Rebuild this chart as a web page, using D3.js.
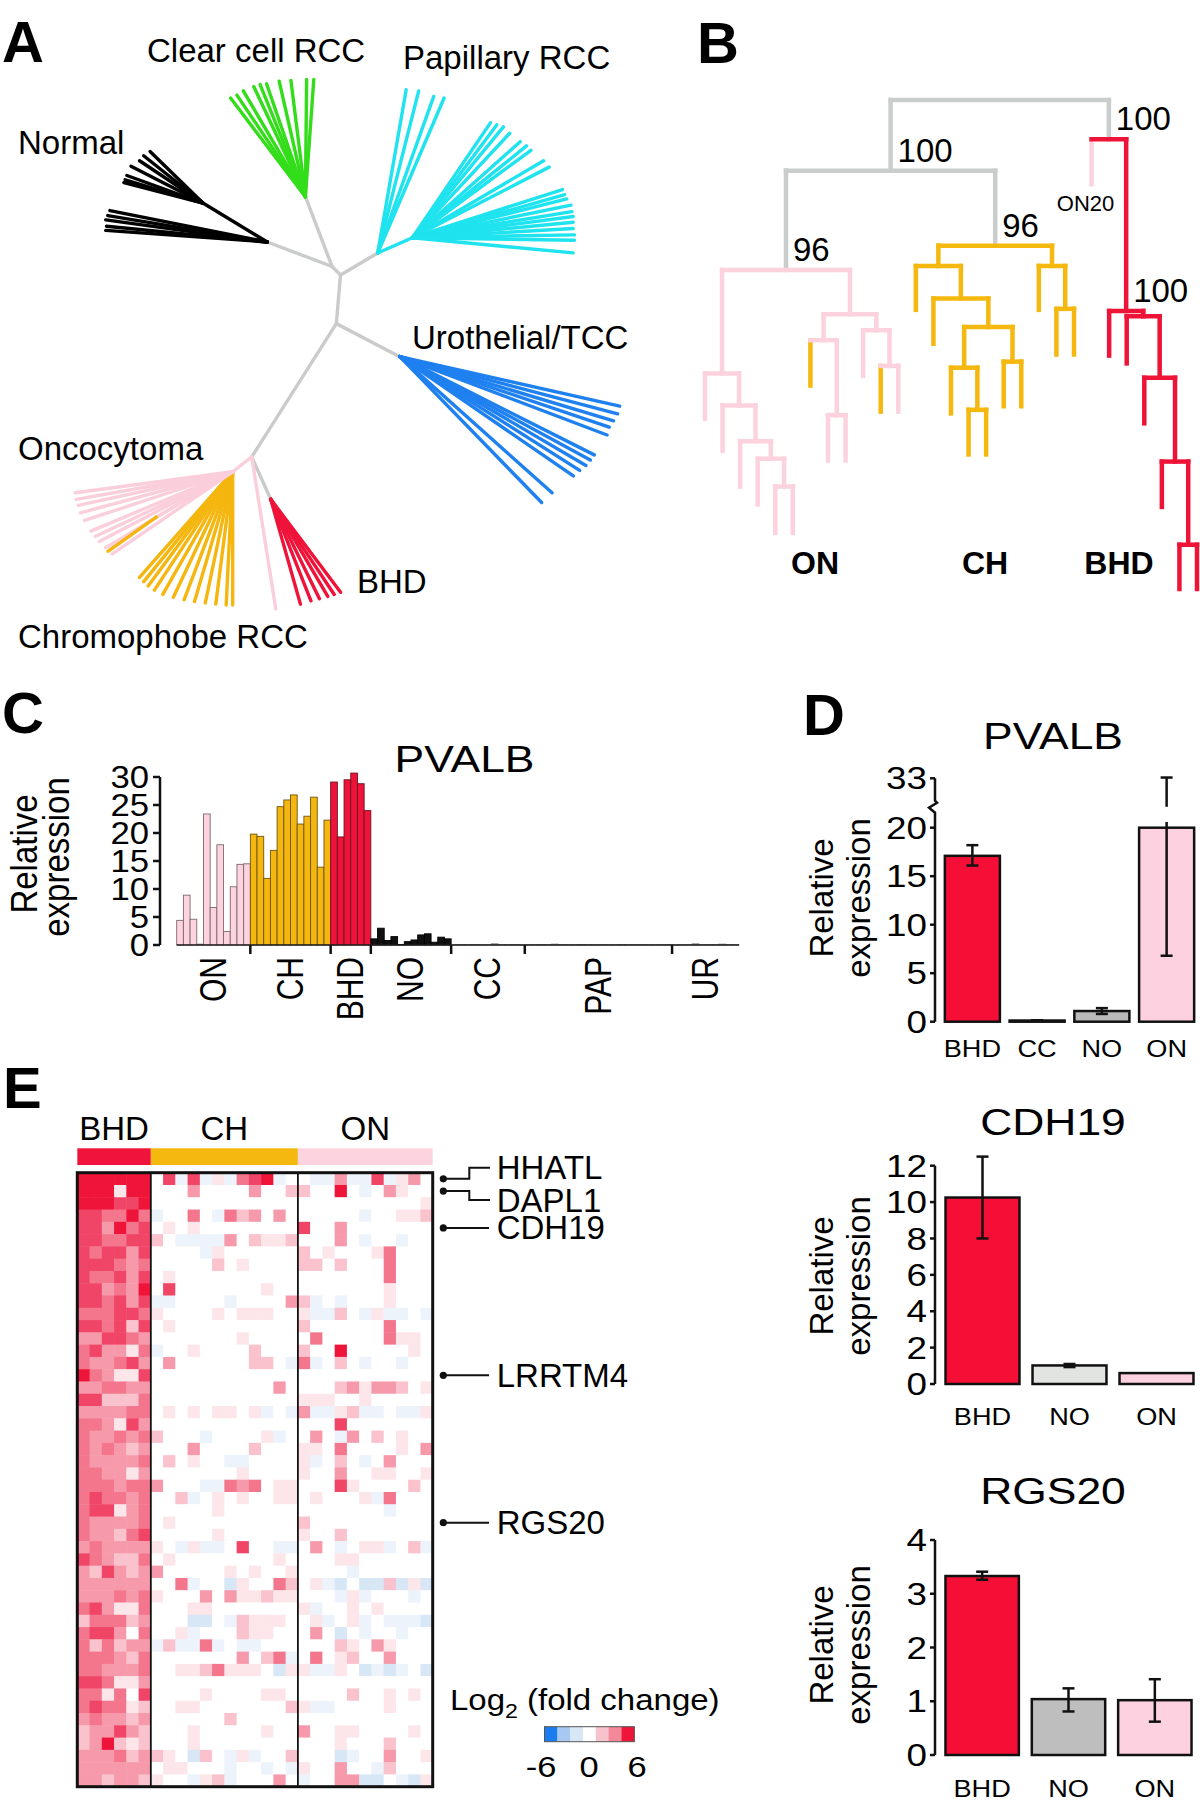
<!DOCTYPE html>
<html><head><meta charset="utf-8">
<script src="https://cdn.jsdelivr.net/npm/d3@7"></script>
<style>body{margin:0;background:#fff} svg{display:block} text{font-family:"Liberation Sans",Arial,Helvetica,sans-serif}</style>
</head><body><svg id="fig" width="1200" height="1806"></svg>
<script>
// ================= DATA =================
// Panel A: unrooted tree. Backbone branches: [node, parent, angle(deg), length, group]
const aBranches = [
  ["n1","n0",-134.7,12,"gray"], ["cc","n1",-110.9,74.7,"gray"], ["no","n1",-159.3,69.3,"gray"],
  ["pap","n0",-30.6,43.2,"gray"], ["n2","n0",94.9,48.8,"gray"], ["ur","n2",27.5,71.5,"gray"],
  ["n3","n2",122.4,157.9,"gray"], ["bhd","n3",65.8,46.4,"gray"], ["onch","n3",142.1,24.1,"on"],
  ["no2","no",-148.8,75.2,"normal"], ["pap2","pap",-23.8,37.9,"pap"], ["onmid","onch",149.3,88.6,"on"]
];
// leaves: [angle, length] from their hub
const aClearTips = [[-127.2,123.8],[-124,122.5],[-120.4,122.7],[-115.1,121.5],[-112,120.9],[-109,119.4],[-102.8,118.4],[-97.1,117.2],[-89.4,117.2],[-85.9,117.5]];
const aNormalTipsA = [[-135.7,73.8],[-141.4,75.8],[-146.3,76.2],[-152.9,80.8],[-160.1,80.9],[-163.4,81.2],[-165.6,81.6]];
const aNormalTipsB = [[-168.7,160.4],[-170.6,161.6],[-172.2,163],[-174.4,161.5],[-175.9,161.9]];
const aPapTipsA = [[-80.1,165.8],[-75.8,167.2],[-70.3,166.3],[-66.8,168.6]];
const aPapTipsB = [[-55.8,139.1],[-53.2,141.1],[-50.6,143.4],[-47,142.8],[-41.7,144.4],[-38.8,146.5],[-36.4,147.3],[-30.4,152.1],[-27.3,153.9],[-17.8,157.7],[-15.8,158.3],[-14.1,159.2],[-11.6,162],[-9.3,161.6],[-7.5,162.2],[-5.5,161.6],[-3.3,161.1],[-1,162.1],[0.9,162.1],[5.4,161.5]];
const aUroTips = [[12.7,225.5],[14.7,225.3],[16.7,223.2],[18.6,221],[20.7,221.6],[26.8,217.9],[28.5,216.8],[30.3,215.6],[32.3,212.8],[34.5,210.6],[41.8,204.3],[45.8,203.5]];
const aOncoTips = [[172.4,158.8],[170,159],[167.7,158.1],[164.9,157.7],[161.8,155.9],[157.3,153.7],[154.8,152],[152.4,150.5],[149.1,148],[145.7,146.1]];
const aOncoLongTip = [[81,154]];
const aChromoTips = [[131.4,140.9],[129,141.4],[126.5,142.1],[123.5,141.9],[119.7,141.1],[115.3,138.9],[110.8,137],[106.4,135.3],[101.8,134],[97.3,133.5],[92.8,133.4],[90,133.2]];
const aChromoInOnTip = [[144.8,59.5]];
const aBhdTips = [[74.2,109],[68.4,109.2],[63.9,110.7],[59.6,112.7],[56.3,114.4],[53.1,116.3]];
const aLabels = ["Clear cell RCC","Papillary RCC","Normal","Urothelial/TCC","Oncocytoma","BHD","Chromophobe RCC"];

// Panel B: dendrogram (Newick; internal names = stemColor barColor | bootstrap)
const bNewick = "(((" +
  "(ON:1.27,(ON:1.27,(ON:1.27,(ON:1.28,(ON:1.30,ON:1.30)PP:0.78)PP:0.49)PP:1.00)PP:0.90)PP:2.90," +
  "((CH:1.27,(ON:1.27,ON:1.27)PP:2.10)PP:0.73,(ON:1.28,(CH:1.28,ON:1.28)PP:1.00)PP:0.45)PP:1.24" +
  ")GP|96:2.78,(" +
  "(CH:1.23,(CH:1.27,((CH:1.28,(CH:1.25,CH:1.25)OO:1.18)OO:1.14,(CH:1.25,CH:1.25)OO:0.97)OO:0.80)OO:0.91)OO:0.57," +
  "(CH:1.23,(CH:1.28,CH:1.28)OO:1.20)OO:0.57" +
  ")GO|96:2.10)GG|100:1.98," +
  "(ON20:1.26,(BHD:1.25,(BHD:1.32,(BHD:1.28,(BHD:1.27,(BHD:1.24,BHD:1.24)RR:2.33)RR:2.35)RR:1.72)RR:0.15)RR|100:4.81)GR|100:1.10)GG;";
const bGroupLabels = ["ON","CH","BHD"];

// Panel C: PVALB relative expression per sample
const cGroups = ["ON","CH","BHD","NO","CC","PAP","UR"];
const cON  = [4.4, 8.9, 4.6, 0.15, 23.4, 6.7, 17.9, 2.4, 10.4, 14.4, 14.5];
const cCH  = [19.8, 19.4, 11.9, 16.9, 24.7, 25.9, 26.8, 21.6, 23.0, 26.4, 13.9, 22.3];
const cBHD = [29.1, 19.3, 29.5, 30.7, 28.8, 24.0];
const cNO  = [1.1, 3.0, 0.8, 1.5, 0.1, 0.6, 0.9, 1.8, 2.0, 0.5, 1.4, 1.1];
const cCC  = [0.05, 0.08, 0.05, 0.1, 0.05, 0.05, 0.2, 0.05, 0.05, 0.1, 0.05];
const cPAP = [0.05, 0.05, 0.1, 0.05, 0.15, 0.05, 0.05, 0.05, 0.1, 0.05, 0.05, 0.05, 0.05, 0.05, 0.1, 0.05, 0.05, 0.05, 0.05, 0.05, 0.05, 0.1];
const cUR  = [0.05, 0.05, 0.05, 0.2, 0.05, 0.05, 0.05, 0.15, 0.05, 0.05];
const cTicks = [0, 5, 10, 15, 20, 25, 30];

// Panel D: qPCR
const pvalbCats = ["BHD","CC","NO","ON"];
const pvalbMean = [17.1, 0.12, 1.1, 20.0];
const pvalbLo   = [16.1, 0.10, 0.8, 6.8];
const pvalbHi   = [18.2, 0.14, 1.4, 33.2];
const pvalbTicks = [0, 5, 10, 15, 20, 33];
const cdh19Cats = ["BHD","NO","ON"];
const cdh19Mean = [10.25, 1.02, 0.6];
const cdh19Lo   = [8.0, 0.93, 0.6];
const cdh19Hi   = [12.5, 1.1, 0.6];
const cdh19Ticks = [0, 2, 4, 6, 8, 10, 12];
const rgs20Cats = ["BHD","NO","ON"];
const rgs20Mean = [3.33, 1.04, 1.02];
const rgs20Lo   = [3.26, 0.81, 0.62];
const rgs20Hi   = [3.41, 1.24, 1.41];
const rgs20Ticks = [0, 1, 2, 3, 4];

// Panel E: heatmap, log2 fold change per gene (rows) x sample (cols)
// digits = +value, a/b/c = -1/-2/-3
const hmGroups = ["BHD","CH","ON"];
const hmBHD = ["666666","666166","666556","554464","553645","554455","545535","555434","544535","553436",
  "554535","444554","554525","335543","453314","433453","643115","334433","552224","333344",
  "443153","433434","434323","433334","443313","444344","454434","455134","433334","433245",
  "343333","543224","325323","333333","333434","453114","244423","455304","424233","444324",
  "443334","554113","441405","454412","343323","233532","236212","333423","333333","332332"];
const hmCH = ["05a5a1a456a0","000300003002","000000000000","a0040a423030","010100000000","20aaaa302112","0000a1000000","000002010000","010000000000","050000000100",
  "aa0000a00003","100001011100","010000000000","000000010000","a00100002000","03000000220a","000000000000","000000000030","000000000000","010101101a0a",
  "000000000000","2000a00001a0","000300002000","020100aa0000","000000010000","3000aa434011","002a01010011","000001000000","010000000000","000001000000",
  "10a1aa0500aa","010000000010","300000101001","004a00b10042","100030311211","000110000000","000bb0a21110","001a00021100","a2aa4a0aa000","00000003024a",
  "0011241110b1","000000000000","000010000110","001100000002","000000200000","000100000100","000100000000","210b20a1a002","011000a00a0a","100a12a00030"];
const hmON = ["0aa3aa5a130","20060a03100","00000000001","00000a00112","50030000000","00030a00a00","20100014000","22020004000","00000004000","00000001000",
  "2a0a0001000","1aa20a1aa0a","20000004000","04000004110","20060000010","4a020a00a00","00000000000","00023133201","11100100000","3aa12aa0aa1",
  "00050000000","030a3020100","11040000103","1a020a03000","10030011001","00051000020","010001a4000","0000000a000","20000000000","10020000000",
  "030a011a02a","00011000000","0000a000000","01ab0bb2b1b","000a1a000a0","1a001010000","01a01a0aaab","030b0a00a00","00021031000","04012003000",
  "1aa10baba0b","00000000000","00002001010","1aa00001000","00000000000","30011000010","00010002000","000ba003001","100300a2000","a0033bb0ab1"];
const hmGenes = ["HHATL","DAPL1","CDH19","LRRTM4","RGS20"];
const hmGeneRows = [0, 1, 4, 16, 28];
const hmLegendValues = [-6, -4, -2, 0, 2, 4, 6];
const hmLegendLabels = [-6, 0, 6];

// ================= STYLE =================
const svg = d3.select("#fig");
const COL = {gray:"#cacccb", normal:"#000000", cc:"#33dd1a", pap:"#1fe3ee", ur:"#1f80ef",
  on:"#fbcedc", ch:"#f4b60f", bhd:"#ef1339"};
const heatStops = [-6, -4, -2, -1, 0, 1, 2, 3, 4, 5, 6];
const heatColors = ["#1b7cf0","#a6c8f1","#d8e7f6","#ecf3fb","#ffffff","#fde6ea","#f9c2cc","#f69aab","#f3768d","#f04566","#ef1439"];

function addText(g, s, x, y, o = {}) {
  const t = g.append("text")
    .attr("transform", `translate(${x},${y}) scale(${o.sx || 1},1) rotate(${o.rot || 0})`)
    .attr("font-size", o.size || 33)
    .attr("font-weight", o.bold ? "bold" : "normal")
    .attr("text-anchor", o.anchor || "start")
    .attr("fill", o.fill || "#000");
  if (o.baseline) t.attr("dominant-baseline", o.baseline);
  t.text(s);
  return t;
}

// Panel letters
[["A",2,62],["B",697,63],["C",2,733],["D",803,735],["E",3,1108]].forEach(([s,x,y]) =>
  addText(svg, s, x, y, {size: 58, bold: true}));

// ================= PANEL A =================
(function () {
  const g = svg.append("g");
  const xA = d3.scaleLinear().domain([0, 1]).range([340.5, 341.5]);
  const yA = d3.scaleLinear().domain([0, 1]).range([275, 276]);
  const pos = {n0: [0, 0]};
  const rad = d => d * Math.PI / 180;
  aBranches.forEach(([n, p, a, l]) => {
    pos[n] = [pos[p][0] + l * Math.cos(rad(a)), pos[p][1] + l * Math.sin(rad(a))];
  });
  const seg = (p0, p1, col) => g.append("line")
    .attr("x1", xA(p0[0])).attr("y1", yA(p0[1])).attr("x2", xA(p1[0])).attr("y2", yA(p1[1]))
    .attr("stroke", col).attr("stroke-width", 3.4).attr("stroke-linecap", "round");
  aBranches.filter(b => b[4] === "gray").forEach(([n, p]) => seg(pos[p], pos[n], COL.gray));
  const tips = (hub, list, col) => list.forEach(([a, l]) => {
    const h = pos[hub];
    seg(h, [h[0] + l * Math.cos(rad(a)), h[1] + l * Math.sin(rad(a))], col);
  });
  aBranches.filter(b => b[4] === "normal").forEach(([n, p]) => seg(pos[p], pos[n], COL.normal));
  tips("no2", aNormalTipsA, COL.normal);
  tips("no", aNormalTipsB, COL.normal);
  tips("cc", aClearTips, COL.cc);
  aBranches.filter(b => b[4] === "pap").forEach(([n, p]) => seg(pos[p], pos[n], COL.pap));
  tips("pap", aPapTipsA, COL.pap);
  tips("pap2", aPapTipsB, COL.pap);
  tips("ur", aUroTips, COL.ur);
  tips("bhd", aBhdTips, COL.bhd);
  tips("onch", aChromoTips, COL.ch);
  aBranches.filter(b => b[4] === "on").forEach(([n, p]) => seg(pos[p], pos[n], COL.on));
  tips("onch", aOncoTips, COL.on);
  tips("n3", aOncoLongTip, COL.on);
  tips("onmid", aChromoInOnTip, COL.ch);

  const lp = [[147,62],[403,69],[18,154],[412,349],[18,460],[357,593],[18,648]];
  aLabels.forEach((s, i) => addText(g, s, lp[i][0], lp[i][1], {size: 33}));
})();

// ================= PANEL B =================
(function () {
  const g = svg.append("g");
  function parseNewick(s) {
    let i = 0;
    function node() {
      const n = {children: []};
      if (s[i] === "(") {
        i++; n.children.push(node());
        while (s[i] === ",") { i++; n.children.push(node()); }
        i++;
      }
      let name = "";
      while (i < s.length && !",:);".includes(s[i])) name += s[i++];
      n.name = name;
      n.length = 0;
      if (s[i] === ":") {
        i++; let num = "";
        while (i < s.length && !",);".includes(s[i])) num += s[i++];
        n.length = +num;
      }
      if (!n.children.length) delete n.children;
      return n;
    }
    return node();
  }
  const root = d3.hierarchy(parseNewick(bNewick));
  root.eachBefore(d => { d.dist = d.parent ? d.parent.dist + d.data.length : 0; });
  const leaves = root.leaves();
  const maxDist = d3.max(leaves, d => d.dist);
  const xB = d3.scalePoint().domain(d3.range(leaves.length)).range([705, 1197]);
  const yB = d3.scaleLinear().domain([0, maxDist]).range([100, 589]);
  leaves.forEach((d, i) => { d.x = xB(i); });
  root.eachAfter(d => { if (d.children) d.x = d3.mean(d.children, c => c.x); d.y = yB(d.dist); });
  const code = {G: "#c9cdcb", P: "#fcd2de", O: "#f5b80f", R: "#ee1438"};
  const leafCode = {ON: "P", CH: "O", BHD: "R", ON20: "P"};
  const line = (x1, y1, x2, y2, c) => g.append("line").attr("x1", x1).attr("y1", y1).attr("x2", x2).attr("y2", y2)
    .attr("stroke", c).attr("stroke-width", 4.5).attr("stroke-linecap", "square");
  root.descendants().filter(d => d.parent).forEach(d => {
    const c = d.children ? d.data.name[0] : leafCode[d.data.name];
    line(d.x, d.parent.y, d.x, d.y, code[c]);
  });
  root.descendants().filter(d => d.children).forEach(d => {
    const c = d.data.name[1];
    line(d.children[0].x, d.y, d.children[d.children.length - 1].x, d.y, code[c]);
  });
  root.descendants().filter(d => d.data.name.includes("|")).forEach(d => {
    addText(g, d.data.name.split("|")[1], d.x + 7, d.y - 9, {size: 33});
  });
  const on20 = leaves.find(d => d.data.name === "ON20");
  addText(g, "ON20", on20.x - 6, on20.y + 27, {size: 22, anchor: "middle"});
  const gx = [815, 985, 1119];
  bGroupLabels.forEach((s, i) => addText(g, s, gx[i], 574, {size: 32, bold: true, anchor: "middle"}));
})();

// ================= PANEL C =================
(function () {
  const g = svg.append("g");
  const series = {ON: cON, CH: cCH, BHD: cBHD, NO: cNO, CC: cCC, PAP: cPAP, UR: cUR};
  const samples = [];
  cGroups.forEach(gr => series[gr].forEach(v => samples.push({g: gr, v})));
  const x = d3.scaleBand().domain(d3.range(samples.length)).range([176.7, 739]).padding(0);
  const y = d3.scaleLinear().domain([0, 30]).range([945, 777]);
  const fill = {ON: "#fcd3de", CH: "#f4b70f", BHD: "#ee1439", NO: "#111111", CC: "#999", PAP: "#999", UR: "#999"};
  const stroke = {ON: "#7d6a6d", CH: "#6e5414", BHD: "#6e1020", NO: "#000", CC: "#777", PAP: "#777", UR: "#777"};
  g.selectAll("rect.bar").data(samples).join("rect")
    .attr("x", (d, i) => x(i)).attr("width", x.bandwidth())
    .attr("y", d => y(d.v)).attr("height", d => y(0) - y(d.v))
    .attr("fill", d => fill[d.g]).attr("stroke", d => stroke[d.g]).attr("stroke-width", 0.9);
  g.append("line").attr("x1", 176.7).attr("x2", 739).attr("y1", y(0)).attr("y2", y(0)).attr("stroke", "#222").attr("stroke-width", 1.5);
  let idx = 0; const bounds = [];
  cGroups.forEach(gr => { const s = idx; idx += series[gr].length; bounds.push([s, idx]); });
  bounds.slice(0, -1).forEach(([s, e]) => g.append("line").attr("x1", x(e)).attr("x2", x(e))
    .attr("y1", y(0)).attr("y2", y(0) + 9).attr("stroke", "#111").attr("stroke-width", 2.5));
  cGroups.forEach((gr, i) => {
    const cx = (x(bounds[i][0]) + x(bounds[i][1] - 1) + x.bandwidth()) / 2;
    addText(g, gr, cx, 957, {size: 30, sx: 1.2, rot: -90, anchor: "end", baseline: "central"});
  });
  g.append("line").attr("x1", 160).attr("x2", 160).attr("y1", y(0)).attr("y2", y(30)).attr("stroke", "#111").attr("stroke-width", 2.5);
  cTicks.forEach(t => {
    g.append("line").attr("x1", 153).attr("x2", 160).attr("y1", y(t)).attr("y2", y(t)).attr("stroke", "#111").attr("stroke-width", 2.5);
    addText(g, t, 149, y(t), {size: 31, sx: 1.12, anchor: "end", baseline: "central"});
  });
  addText(g, "Relative", 36.5, 854, {size: 33, sx: 1.1, rot: -90, anchor: "middle"});
  addText(g, "expression", 68.5, 857, {size: 33, sx: 1.1, rot: -90, anchor: "middle"});
  addText(g, "PVALB", 464.5, 771.5, {size: 37, sx: 1.2, anchor: "middle"});
})();

// ================= PANEL D =================
function drawD(cfg) {
  const g = svg.append("g");
  const x = d3.scaleBand().domain(cfg.cats).range(cfg.xr).paddingInner(0.15).paddingOuter(0.075);
  const y = d3.scaleLinear().domain(cfg.yd).range(cfg.yr);
  const ax = 935;
  const top = cfg.ticks[cfg.ticks.length - 1];
  if (cfg.brk) {
    const yb = y(cfg.yd[1]);
    g.append("path").attr("d", `M${ax},${y(0)}V${yb - 15}L${ax - 6},${yb - 20}L${ax + 2},${yb - 25}L${ax},${yb - 27}V${y(top)}`)
      .attr("fill", "none").attr("stroke", "#111").attr("stroke-width", 2.5);
  } else {
    g.append("line").attr("x1", ax).attr("x2", ax).attr("y1", y(0)).attr("y2", y(top)).attr("stroke", "#111").attr("stroke-width", 2.5);
  }
  cfg.ticks.forEach(t => {
    g.append("line").attr("x1", ax - 5).attr("x2", ax).attr("y1", y(t)).attr("y2", y(t)).attr("stroke", "#111").attr("stroke-width", 2.5);
    addText(g, t, 927, y(t), {size: 32, sx: 1.15, anchor: "end", baseline: "central"});
  });
  g.selectAll("rect.b").data(cfg.cats).join("rect")
    .attr("x", d => x(d)).attr("width", x.bandwidth())
    .attr("y", (d, i) => y(cfg.mean[i])).attr("height", (d, i) => y(0) - y(cfg.mean[i]))
    .attr("fill", (d, i) => cfg.fills[i]).attr("stroke", "#111").attr("stroke-width", 2.5);
  cfg.cats.forEach((c, i) => {
    const cx = x(c) + x.bandwidth() / 2;
    const lo = cfg.lo[i], hi = cfg.hi[i];
    if (hi - lo > 0.001) {
      const segs = (cfg.brk && hi > cfg.brk[1]) ? [[lo, cfg.brk[0]], [cfg.brk[1], hi]] : [[lo, hi]];
      segs.forEach(([a, b]) => g.append("line").attr("x1", cx).attr("x2", cx).attr("y1", y(a)).attr("y2", y(b))
        .attr("stroke", "#111").attr("stroke-width", 2.5));
      [lo, hi].forEach(v => g.append("line").attr("x1", cx - 6).attr("x2", cx + 6).attr("y1", y(v)).attr("y2", y(v))
        .attr("stroke", "#111").attr("stroke-width", 2.5));
    }
    addText(g, c, cx, cfg.labelY, {size: 23, sx: 1.18, anchor: "middle"});
  });
  addText(g, cfg.title, 1053, cfg.titleY, {size: 37, sx: 1.2, anchor: "middle"});
  addText(g, "Relative", 833, cfg.ylabCY, {size: 33, rot: -90, anchor: "middle"});
  addText(g, "expression", 870, cfg.ylabCY, {size: 33, rot: -90, anchor: "middle"});
}
drawD({title: "PVALB", cats: pvalbCats, mean: pvalbMean, lo: pvalbLo, hi: pvalbHi, ticks: pvalbTicks,
  fills: ["#f50f36", "#cfcfcf", "#b9b9b9", "#fdd1df"], yd: [0, 20, 33], yr: [1021.7, 827.7, 778.3],
  brk: [21.5, 25.5], xr: [940, 1199], titleY: 748.5, labelY: 1057, ylabCY: 898});
drawD({title: "CDH19", cats: cdh19Cats, mean: cdh19Mean, lo: cdh19Lo, hi: cdh19Hi, ticks: cdh19Ticks,
  fills: ["#f50f36", "#e1e4e1", "#fdd1df"], yd: [0, 12], yr: [1384, 1165.7],
  xr: [939, 1200], titleY: 1135, labelY: 1425, ylabCY: 1276});
drawD({title: "RGS20", cats: rgs20Cats, mean: rgs20Mean, lo: rgs20Lo, hi: rgs20Hi, ticks: rgs20Ticks,
  fills: ["#f50f36", "#bebebe", "#fdd1df"], yd: [0, 4], yr: [1755, 1540],
  xr: [939, 1198], titleY: 1503.5, labelY: 1797, ylabCY: 1645});

// ================= PANEL E =================
(function () {
  const g = svg.append("g");
  const decode = c => (c >= "0" && c <= "9") ? +c : -("abc".indexOf(c) + 1);
  const blocks = {BHD: hmBHD, CH: hmCH, ON: hmON};
  const nCols = hmGroups.map(k => blocks[k][0].length);
  const totalCols = d3.sum(nCols);
  const nRows = hmBHD.length;
  const x = d3.scaleBand().domain(d3.range(totalCols)).range([77.3, 432.7]);
  const y = d3.scaleBand().domain(d3.range(nRows)).range([1172.7, 1786.7]);
  const color = d3.scaleLinear().domain(heatStops).range(heatColors).clamp(true);
  const cells = [];
  for (let r = 0; r < nRows; r++) {
    const row = hmBHD[r] + hmCH[r] + hmON[r];
    for (let c = 0; c < totalCols; c++) cells.push({r, c, v: decode(row[c])});
  }
  g.selectAll("rect.cell").data(cells).join("rect")
    .attr("x", d => x(d.c)).attr("y", d => y(d.r))
    .attr("width", x.bandwidth() + 0.5).attr("height", y.bandwidth() + 0.5)
    .attr("fill", d => color(d.v));
  const grpCol = {BHD: "#f0143c", CH: "#f5b80f", ON: "#fdd3df"};
  let start = 0;
  hmGroups.forEach((k, i) => {
    const x0 = x(start), x1 = x(start + nCols[i] - 1) + x.bandwidth();
    g.append("rect").attr("x", x0).attr("y", 1148.3).attr("width", x1 - x0).attr("height", 16.7).attr("fill", grpCol[k]);
    addText(g, k, (x0 + x1) / 2, 1140, {size: 33, anchor: "middle"});
    if (i > 0) g.append("line").attr("x1", x0).attr("x2", x0).attr("y1", 1172.7).attr("y2", 1786.7).attr("stroke", "#111").attr("stroke-width", 1.8);
    start += nCols[i];
  });
  g.append("rect").attr("x", 77.3).attr("y", 1172.7).attr("width", 355.4).attr("height", 614)
    .attr("fill", "none").attr("stroke", "#111").attr("stroke-width", 3);
  const offs = [-11, 9, 0, 0, 0];
  hmGenes.forEach((s, i) => {
    const yc = y(hmGeneRows[i]) + y.bandwidth() / 2;
    const yt = yc + offs[i];
    g.append("circle").attr("cx", 443.3).attr("cy", yc).attr("r", 3.6).attr("fill", "#111");
    g.append("path").attr("d", offs[i] ? `M443.3,${yc}H469.3V${yt}H490` : `M443.3,${yc}H489`)
      .attr("fill", "none").attr("stroke", "#111").attr("stroke-width", 2);
    addText(g, s, 496.7, yt, {size: 33, baseline: "central"});
  });
  const lt = g.append("text").attr("x", 450).attr("y", 1710).attr("font-size", 30)
    .attr("transform", "translate(-45,0) scale(1.1,1)");
  lt.append("tspan").text("Log");
  lt.append("tspan").attr("font-size", 21).attr("dy", 8).text("2");
  lt.append("tspan").attr("dy", -8).text(" (fold change)");
  const lx = d3.scaleBand().domain(hmLegendValues).range([544.5, 634.3]);
  const legColor = d3.scaleLinear().domain(hmLegendValues).range(["#1b7cf0","#a6c8f1","#d8e7f6","#ffffff","#f8c2cc","#f2889a","#ef1439"]);
  g.selectAll("rect.leg").data(hmLegendValues).join("rect")
    .attr("x", d => lx(d)).attr("y", 1726.7).attr("width", lx.bandwidth() + 0.3).attr("height", 15)
    .attr("fill", d => legColor(d));
  g.append("rect").attr("x", 544.5).attr("y", 1726.7).attr("width", 89.8).attr("height", 15)
    .attr("fill", "none").attr("stroke", "#555").attr("stroke-width", 1);
  const lxl = d3.scaleLinear().domain([-6, 6]).range([541, 637]);
  hmLegendLabels.forEach(v => addText(g, v, lxl(v), 1777, {size: 30, sx: 1.15, anchor: "middle"}));
})();
</script></body></html>
